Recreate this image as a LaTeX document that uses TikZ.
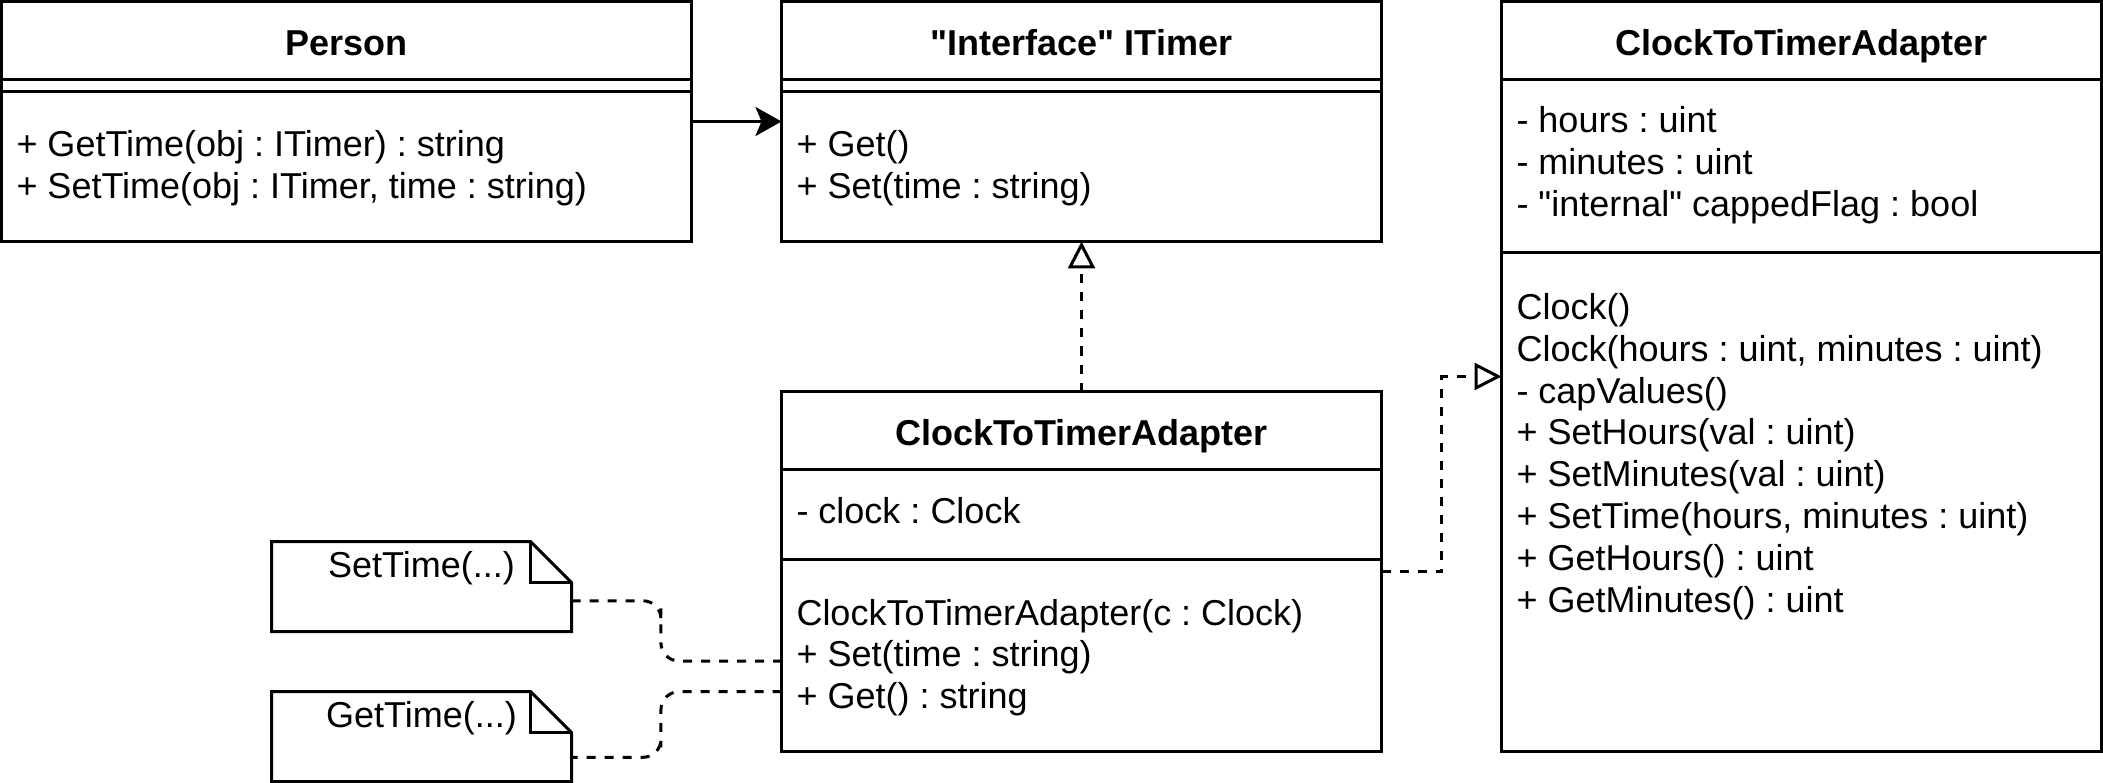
\documentclass[tikz,border=0pt]{standalone}
\usepackage{fontspec}
\setmainfont{Liberation Sans}[Ligatures=TeXOff]
\usetikzlibrary{arrows.meta,calc}
\begin{document}
\frenchspacing
\begin{tikzpicture}[x=1pt,y=-1pt,
  box/.style={draw, line width=3pt, inner sep=0pt, outer sep=0pt},
  sepline/.style={line width=3pt},
  txt/.style={inner sep=0pt, outer sep=0pt, font=\fontsize{36pt}{42pt}\selectfont, anchor=base west},
  ttl/.style={inner sep=0pt, outer sep=0pt, font=\fontsize{36pt}{42pt}\selectfont\bfseries, anchor=base},
  ntxt/.style={inner sep=0pt, outer sep=0pt, font=\fontsize{36pt}{42pt}\selectfont, anchor=base},
  assoc/.style={line width=3pt, -{Stealth[length=26pt,width=29pt,inset=6pt]}},
  realize/.style={line width=3pt, dash pattern=on 9pt off 9pt, -{Triangle[open,length=27pt,width=27pt]}},
  noteline/.style={line width=3pt, dash pattern=on 9pt off 9pt, rounded corners=18pt}
]
\useasboundingbox (0,0) rectangle (2103,783);

% ---------- boxes ----------
\node[box, minimum width=690pt, minimum height=240pt] (person) at (346.5,121.5) {};
\node[box, minimum width=600pt, minimum height=240pt] (itimer) at (1081.5,121.5) {};
\node[box, minimum width=600pt, minimum height=750pt] (clock) at (1801.5,376.5) {};
\node[box, minimum width=600pt, minimum height=360pt] (mid) at (1081.5,571.5) {};

% separators
\draw[sepline] ([yshift=-78pt]person.north west) -- ([yshift=-78pt]person.north east);
\draw[sepline] ([yshift=-90pt]person.north west) -- ([yshift=-90pt]person.north east);
\draw[sepline] ([yshift=-78pt]itimer.north west) -- ([yshift=-78pt]itimer.north east);
\draw[sepline] ([yshift=-90pt]itimer.north west) -- ([yshift=-90pt]itimer.north east);
\draw[sepline] ([yshift=-78pt]clock.north west) -- ([yshift=-78pt]clock.north east);
\draw[sepline] ([yshift=-251.5pt]clock.north west) -- ([yshift=-251.5pt]clock.north east);
\draw[sepline] ([yshift=-78pt]mid.north west) -- ([yshift=-78pt]mid.north east);
\draw[sepline] ([yshift=-168pt]mid.north west) -- ([yshift=-168pt]mid.north east);

% ---------- Person ----------
\node[ttl] (personT) at ([yshift=-54pt]person.north) {Person};
\node[txt] (personM1) at ([xshift=15pt,yshift=-155.5pt]person.north west) {+ GetTime(obj : ITimer) : string};
\node[txt] (personM2) at ([xshift=15pt,yshift=-197.3pt]person.north west) {+ SetTime(obj : ITimer, time : string)};

% ---------- ITimer ----------
\node[ttl] (itimerT) at ([yshift=-54pt]itimer.north) {"Interface" ITimer};
\node[txt] (itimerM1) at ([xshift=15pt,yshift=-155.5pt]itimer.north west) {+ Get()};
\node[txt] (itimerM2) at ([xshift=15pt,yshift=-197.3pt]itimer.north west) {+ Set(time : string)};

% ---------- Clock (right) ----------
\node[ttl] (clockT) at ([yshift=-54pt]clock.north) {ClockToTimerAdapter};
\node[txt] (clockA1) at ([xshift=15pt,yshift=-131.5pt]clock.north west) {- hours : uint};
\node[txt] (clockA2) at ([xshift=15pt,yshift=-173.3pt]clock.north west) {- minutes : uint};
\node[txt] (clockA3) at ([xshift=15pt,yshift=-215.1pt]clock.north west) {- "internal" cappedFlag : bool};
\node[txt] (clockM1) at ([xshift=15pt,yshift=-318pt]clock.north west) {Clock()};
\node[txt] (clockM2) at ([xshift=15pt,yshift=-359.8pt]clock.north west) {Clock(hours : uint, minutes : uint)};
\node[txt] (clockM3) at ([xshift=15pt,yshift=-401.6pt]clock.north west) {- capValues()};
\node[txt] (clockM4) at ([xshift=15pt,yshift=-443.4pt]clock.north west) {+ SetHours(val : uint)};
\node[txt] (clockM5) at ([xshift=15pt,yshift=-485.2pt]clock.north west) {+ SetMinutes(val : uint)};
\node[txt] (clockM6) at ([xshift=15pt,yshift=-527pt]clock.north west) {+ SetTime(hours, minutes : uint)};
\node[txt] (clockM7) at ([xshift=15pt,yshift=-568.8pt]clock.north west) {+ GetHours() : uint};
\node[txt] (clockM8) at ([xshift=15pt,yshift=-610.6pt]clock.north west) {+ GetMinutes() : uint};

% ---------- Adapter (middle) ----------
\node[ttl] (midT) at ([yshift=-54pt]mid.north) {ClockToTimerAdapter};
\node[txt] (midA1) at ([xshift=15pt,yshift=-131.7pt]mid.north west) {- clock : Clock};
\node[txt] (midM1) at ([xshift=15pt,yshift=-233.6pt]mid.north west) {ClockToTimerAdapter(c : Clock)};
\node[txt] (midM2) at ([xshift=15pt,yshift=-275.4pt]mid.north west) {+ Set(time : string)};
\node[txt] (midM3) at ([xshift=15pt,yshift=-317.2pt]mid.north west) {+ Get() : string};

% ---------- notes ----------
\node[inner sep=0pt, outer sep=0pt, minimum width=300pt, minimum height=90pt] (setnote) at (421.5,586.5) {};
\node[inner sep=0pt, outer sep=0pt, minimum width=300pt, minimum height=90pt] (getnote) at (421.5,736.5) {};
\foreach \n in {setnote,getnote}{
  \draw[line width=3pt] (\n.north west) -- ([xshift=-41pt]\n.north east) -- ([yshift=-41pt]\n.north east) -- (\n.south east) -- (\n.south west) -- cycle;
  \draw[line width=3pt] ([xshift=-41pt]\n.north east) -- ([xshift=-41pt,yshift=-41pt]\n.north east) -- ([yshift=-41pt]\n.north east);
}
\node[ntxt] (setnoteT) at ([yshift=-36pt]setnote.north) {SetTime(...)};
\node[ntxt] (getnoteT) at ([yshift=-36pt]getnote.north) {GetTime(...)};

% ---------- connectors ----------
\draw[assoc] (person.east) -- (itimer.west);
\draw[realize] (mid.north) -- (itimer.south);
\draw[realize] (mid.east) -- ++(60.3,0) |- (clock.west);

\coordinate (s1) at ([yshift=-14.3pt]setnote.east);
\coordinate (m1) at ([yshift=-89.5pt]mid.west);
\coordinate (k1) at ($(s1)!0.426!(m1)$);
\draw[noteline] (s1) -| (k1) |- (m1);

\coordinate (m2) at ([yshift=-120.2pt]mid.west);
\coordinate (g1) at ([yshift=-20.8pt]getnote.east);
\coordinate (k2) at ($(m2)!0.574!(g1)$);
\draw[noteline] (m2) -| (k2) |- (g1);
\end{tikzpicture}
\end{document}
